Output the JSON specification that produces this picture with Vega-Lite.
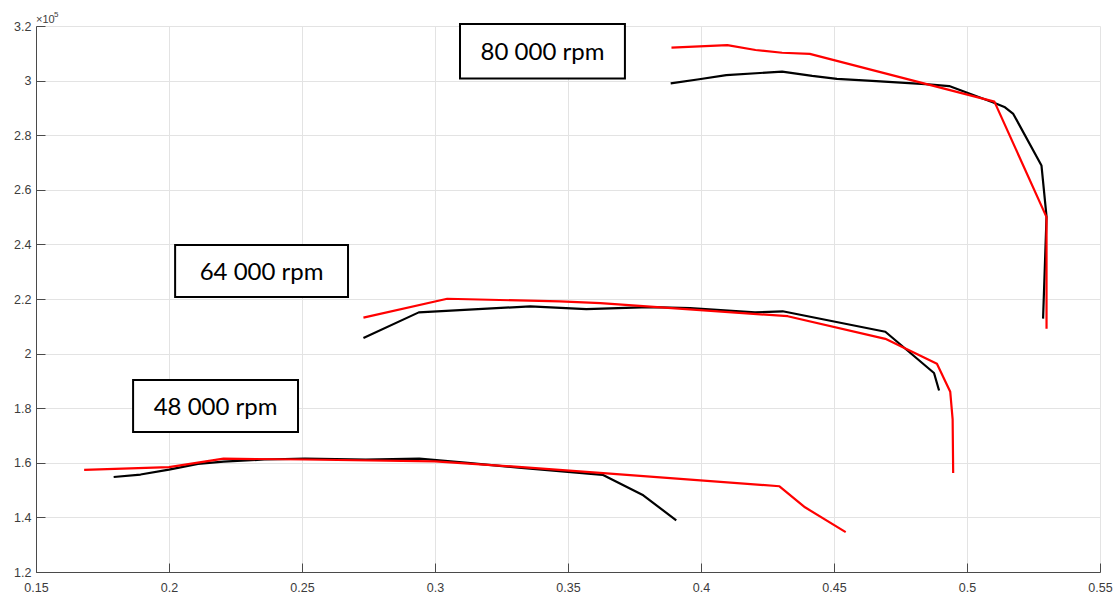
{
  "$schema": "https://vega.github.io/schema/vega-lite/v6.json",
  "width": 1064,
  "height": 546,
  "autosize": {"type": "none"},
  "padding": {"left": 36, "top": 26, "right": 18, "bottom": 22},
  "background": "white",
  "config": {
    "view": {"stroke": null},
    "axis": {
      "domainColor": "#4a4a4a",
      "tickColor": "#4a4a4a",
      "gridColor": "#e3e3e3",
      "gridWidth": 1,
      "labelColor": "#3c3c3c",
      "labelFont": "Liberation Sans",
      "labelFontSize": 12.5,
      "tickSize": -9,
      "title": null
    }
  },
  "datasets": {
    "curves": [
      {"speed": "80k", "src": "measured", "i": 1, "x": 0.3886, "y": 2.990},
      {"speed": "80k", "src": "measured", "i": 2, "x": 0.3993, "y": 3.005},
      {"speed": "80k", "src": "measured", "i": 3, "x": 0.4095, "y": 3.020},
      {"speed": "80k", "src": "measured", "i": 4, "x": 0.4305, "y": 3.033},
      {"speed": "80k", "src": "measured", "i": 5, "x": 0.4418, "y": 3.017},
      {"speed": "80k", "src": "measured", "i": 6, "x": 0.4511, "y": 3.006},
      {"speed": "80k", "src": "measured", "i": 7, "x": 0.4643, "y": 2.999},
      {"speed": "80k", "src": "measured", "i": 8, "x": 0.4843, "y": 2.987},
      {"speed": "80k", "src": "measured", "i": 9, "x": 0.4933, "y": 2.980},
      {"speed": "80k", "src": "measured", "i": 10, "x": 0.5099, "y": 2.920},
      {"speed": "80k", "src": "measured", "i": 11, "x": 0.5143, "y": 2.902},
      {"speed": "80k", "src": "measured", "i": 12, "x": 0.5174, "y": 2.878},
      {"speed": "80k", "src": "measured", "i": 13, "x": 0.5280, "y": 2.689},
      {"speed": "80k", "src": "measured", "i": 14, "x": 0.5299, "y": 2.502},
      {"speed": "80k", "src": "measured", "i": 15, "x": 0.5286, "y": 2.128},

      {"speed": "80k", "src": "model", "i": 1, "x": 0.3889, "y": 3.121},
      {"speed": "80k", "src": "model", "i": 2, "x": 0.4099, "y": 3.130},
      {"speed": "80k", "src": "model", "i": 3, "x": 0.4205, "y": 3.112},
      {"speed": "80k", "src": "model", "i": 4, "x": 0.4305, "y": 3.102},
      {"speed": "80k", "src": "model", "i": 5, "x": 0.4409, "y": 3.098},
      {"speed": "80k", "src": "model", "i": 6, "x": 0.5103, "y": 2.923},
      {"speed": "80k", "src": "model", "i": 7, "x": 0.5299, "y": 2.500},
      {"speed": "80k", "src": "model", "i": 8, "x": 0.5299, "y": 2.091},

      {"speed": "64k", "src": "measured", "i": 1, "x": 0.2731, "y": 2.057},
      {"speed": "64k", "src": "measured", "i": 2, "x": 0.2939, "y": 2.151},
      {"speed": "64k", "src": "measured", "i": 3, "x": 0.3358, "y": 2.173},
      {"speed": "64k", "src": "measured", "i": 4, "x": 0.3569, "y": 2.163},
      {"speed": "64k", "src": "measured", "i": 5, "x": 0.3806, "y": 2.170},
      {"speed": "64k", "src": "measured", "i": 6, "x": 0.3959, "y": 2.167},
      {"speed": "64k", "src": "measured", "i": 7, "x": 0.4203, "y": 2.151},
      {"speed": "64k", "src": "measured", "i": 8, "x": 0.4307, "y": 2.155},
      {"speed": "64k", "src": "measured", "i": 9, "x": 0.4693, "y": 2.080},
      {"speed": "64k", "src": "measured", "i": 10, "x": 0.4876, "y": 1.929},
      {"speed": "64k", "src": "measured", "i": 11, "x": 0.4895, "y": 1.865},

      {"speed": "64k", "src": "model", "i": 1, "x": 0.2731, "y": 2.132},
      {"speed": "64k", "src": "model", "i": 2, "x": 0.3046, "y": 2.201},
      {"speed": "64k", "src": "model", "i": 3, "x": 0.3469, "y": 2.191},
      {"speed": "64k", "src": "model", "i": 4, "x": 0.3622, "y": 2.185},
      {"speed": "64k", "src": "model", "i": 5, "x": 0.4326, "y": 2.137},
      {"speed": "64k", "src": "model", "i": 6, "x": 0.4693, "y": 2.054},
      {"speed": "64k", "src": "model", "i": 7, "x": 0.4887, "y": 1.963},
      {"speed": "64k", "src": "model", "i": 8, "x": 0.4937, "y": 1.860},
      {"speed": "64k", "src": "model", "i": 9, "x": 0.4946, "y": 1.759},
      {"speed": "64k", "src": "model", "i": 10, "x": 0.4948, "y": 1.563},

      {"speed": "48k", "src": "measured", "i": 1, "x": 0.1792, "y": 1.548},
      {"speed": "48k", "src": "measured", "i": 2, "x": 0.1893, "y": 1.557},
      {"speed": "48k", "src": "measured", "i": 3, "x": 0.2000, "y": 1.575},
      {"speed": "48k", "src": "measured", "i": 4, "x": 0.2109, "y": 1.596},
      {"speed": "48k", "src": "measured", "i": 5, "x": 0.2205, "y": 1.604},
      {"speed": "48k", "src": "measured", "i": 6, "x": 0.2358, "y": 1.612},
      {"speed": "48k", "src": "measured", "i": 7, "x": 0.2511, "y": 1.615},
      {"speed": "48k", "src": "measured", "i": 8, "x": 0.2740, "y": 1.612},
      {"speed": "48k", "src": "measured", "i": 9, "x": 0.2941, "y": 1.615},
      {"speed": "48k", "src": "measured", "i": 10, "x": 0.3123, "y": 1.600},
      {"speed": "48k", "src": "measured", "i": 11, "x": 0.3314, "y": 1.582},
      {"speed": "48k", "src": "measured", "i": 12, "x": 0.3630, "y": 1.556},
      {"speed": "48k", "src": "measured", "i": 13, "x": 0.3783, "y": 1.481},
      {"speed": "48k", "src": "measured", "i": 14, "x": 0.3907, "y": 1.389},

      {"speed": "48k", "src": "model", "i": 1, "x": 0.1681, "y": 1.574},
      {"speed": "48k", "src": "model", "i": 2, "x": 0.2000, "y": 1.584},
      {"speed": "48k", "src": "model", "i": 3, "x": 0.2205, "y": 1.615},
      {"speed": "48k", "src": "model", "i": 4, "x": 0.2511, "y": 1.612},
      {"speed": "48k", "src": "model", "i": 5, "x": 0.3000, "y": 1.605},
      {"speed": "48k", "src": "model", "i": 6, "x": 0.3314, "y": 1.585},
      {"speed": "48k", "src": "model", "i": 7, "x": 0.3620, "y": 1.563},
      {"speed": "48k", "src": "model", "i": 8, "x": 0.4295, "y": 1.514},
      {"speed": "48k", "src": "model", "i": 9, "x": 0.4391, "y": 1.437},
      {"speed": "48k", "src": "model", "i": 10, "x": 0.4544, "y": 1.346}
    ],
    "labels": [
      {"label": "80 000 rpm", "x1": 0.3094, "x2": 0.3714, "y1": 3.207, "y2": 3.008, "xc": 0.3404, "yc": 3.102},
      {"label": "64 000 rpm", "x1": 0.2023, "x2": 0.2673, "y1": 2.398, "y2": 2.207, "xc": 0.2348, "yc": 2.297},
      {"label": "48 000 rpm", "x1": 0.1865, "x2": 0.2485, "y1": 1.903, "y2": 1.713, "xc": 0.2175, "yc": 1.802}
    ]
  },
  "layer": [
    {
      "data": {"name": "curves"},
      "mark": {"type": "line", "strokeWidth": 2.2, "strokeJoin": "round"},
      "encoding": {
        "x": {
          "field": "x", "type": "quantitative",
          "scale": {"domain": [0.15, 0.55], "nice": false, "zero": false},
          "axis": {"values": [0.15, 0.2, 0.25, 0.3, 0.35, 0.4, 0.45, 0.5, 0.55], "format": "~g", "labelPadding": 18, "labelFlush": false}
        },
        "y": {
          "field": "y", "type": "quantitative",
          "scale": {"domain": [1.2, 3.2], "nice": false, "zero": false},
          "axis": {"values": [1.2, 1.4, 1.6, 1.8, 2.0, 2.2, 2.4, 2.6, 2.8, 3.0, 3.2], "format": "~g", "labelPadding": 14, "labelFlush": false}
        },
        "color": {
          "field": "src", "type": "nominal",
          "scale": {"domain": ["measured", "model"], "range": ["#000000", "#ff0000"]},
          "legend": null
        },
        "detail": {"field": "speed"},
        "order": {"field": "i", "type": "quantitative"}
      }
    },
    {
      "data": {"name": "labels"},
      "mark": {"type": "rect", "fill": "white", "stroke": "black", "strokeWidth": 2},
      "encoding": {
        "x": {"field": "x1", "type": "quantitative"},
        "x2": {"field": "x2"},
        "y": {"field": "y1", "type": "quantitative"},
        "y2": {"field": "y2"}
      }
    },
    {
      "data": {"name": "labels"},
      "mark": {"type": "text", "font": "Lato", "fontSize": 24, "color": "black", "align": "center", "baseline": "middle"},
      "encoding": {
        "x": {"field": "xc", "type": "quantitative"},
        "y": {"field": "yc", "type": "quantitative"},
        "text": {"field": "label"}
      }
    },
    {
      "data": {"values": [{"x": 0.15, "y": 3.2, "t": "×10"}]},
      "mark": {"type": "text", "font": "Liberation Sans", "fontSize": 11, "color": "#3c3c3c", "align": "left", "baseline": "alphabetic", "dy": -3},
      "encoding": {
        "x": {"field": "x", "type": "quantitative"},
        "y": {"field": "y", "type": "quantitative"},
        "text": {"field": "t"}
      }
    },
    {
      "data": {"values": [{"x": 0.15, "y": 3.2, "t": "5"}]},
      "mark": {"type": "text", "font": "Liberation Sans", "fontSize": 8, "color": "#3c3c3c", "align": "left", "baseline": "alphabetic", "dx": 18, "dy": -9},
      "encoding": {
        "x": {"field": "x", "type": "quantitative"},
        "y": {"field": "y", "type": "quantitative"},
        "text": {"field": "t"}
      }
    }
  ]
}
